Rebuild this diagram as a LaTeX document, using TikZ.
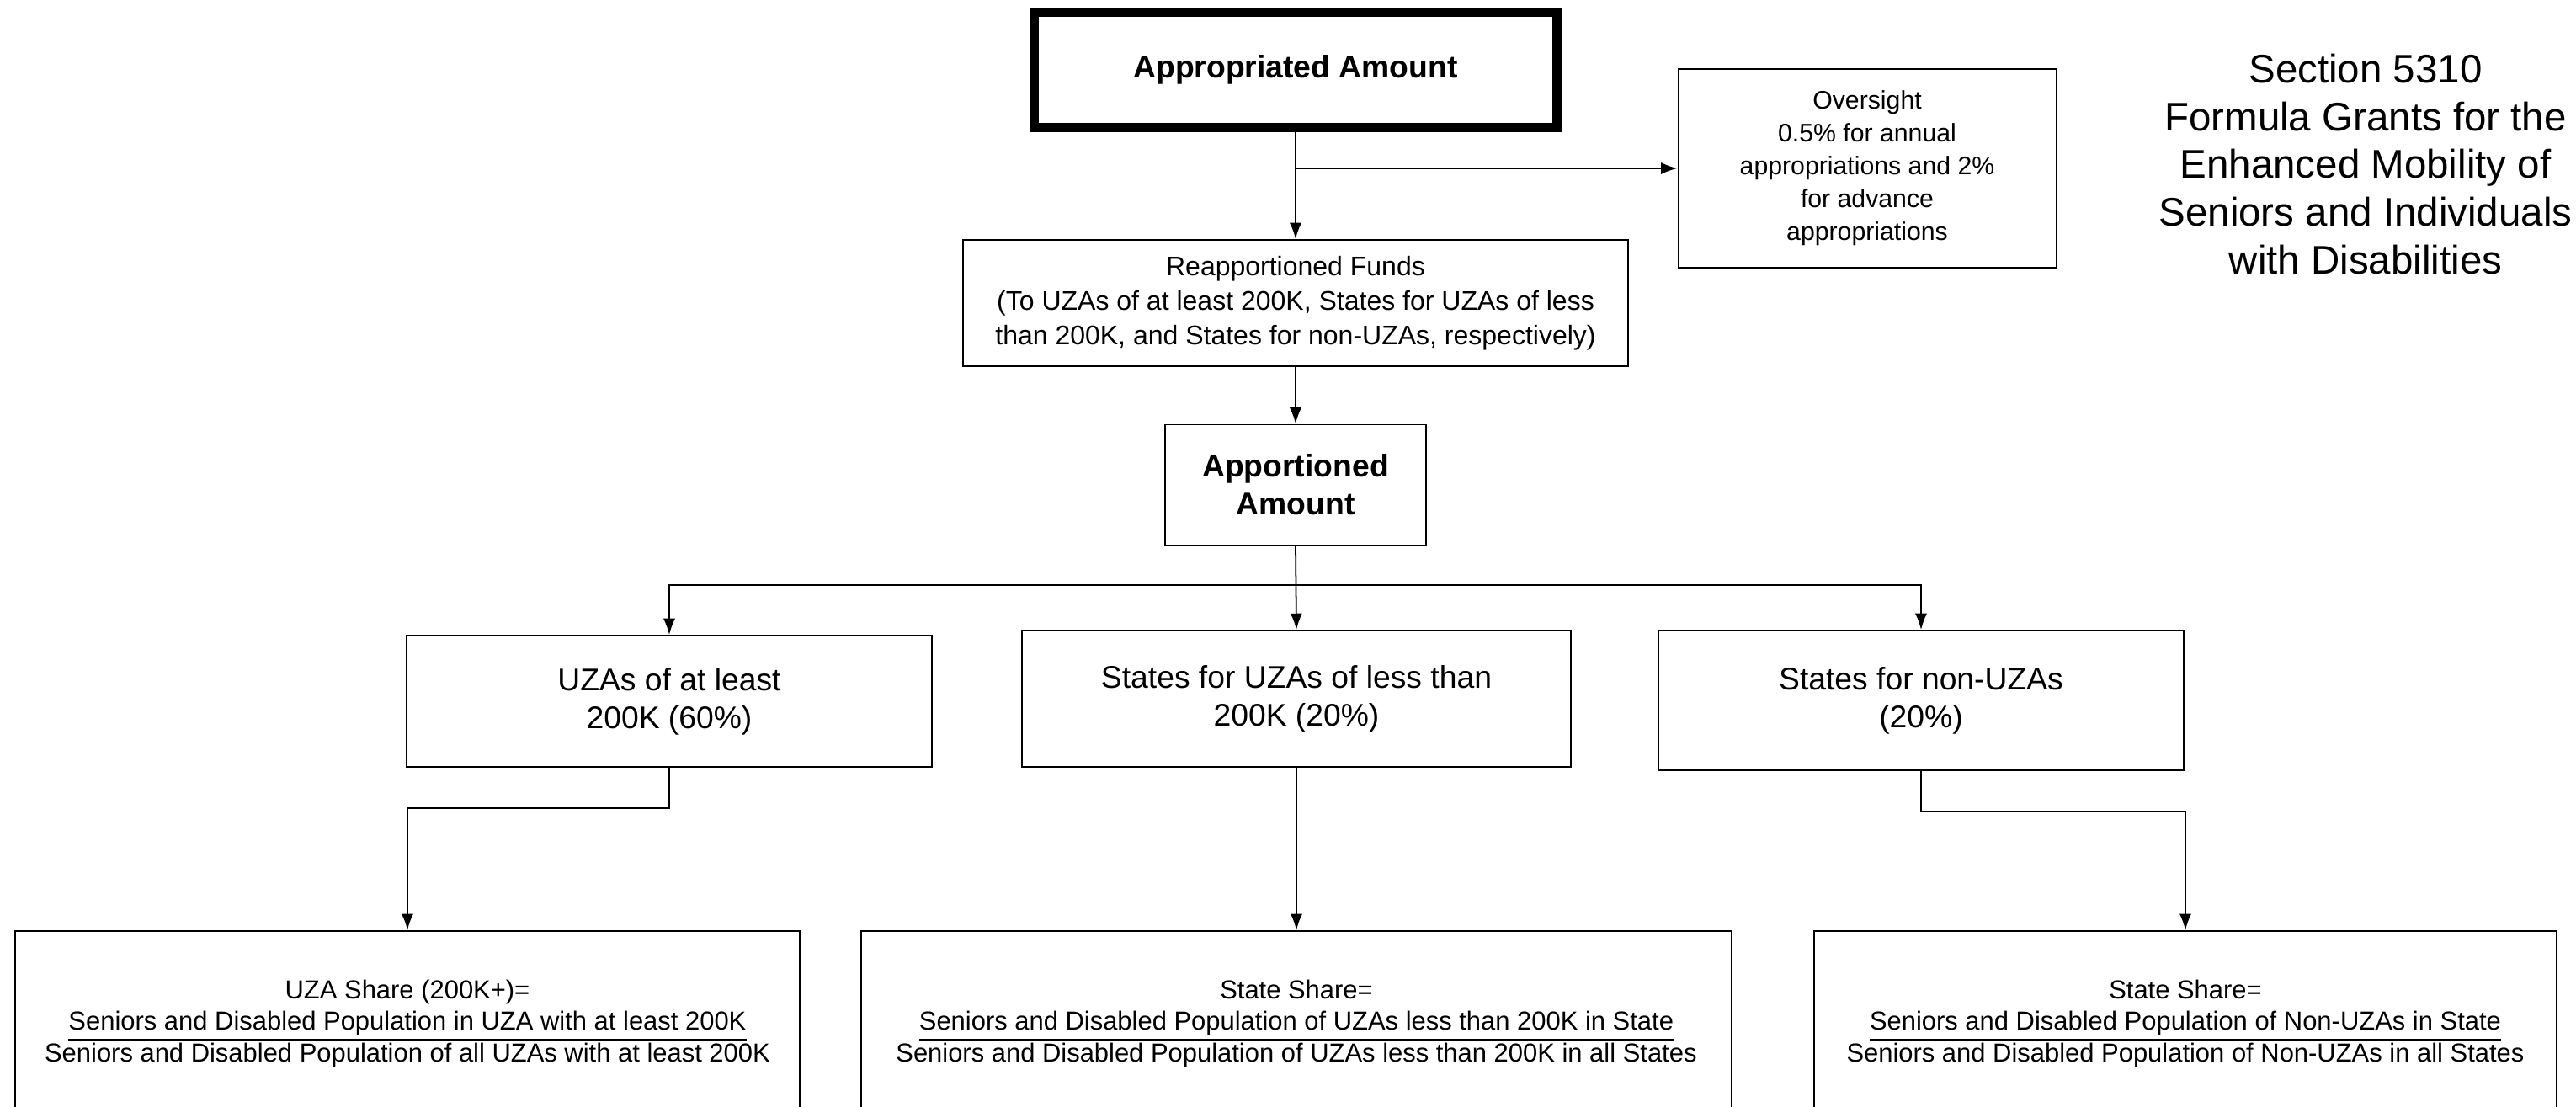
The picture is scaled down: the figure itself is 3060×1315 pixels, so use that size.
\documentclass[tikz,border=0pt]{standalone}
\usepackage{fontspec}
\setmainfont{Liberation Sans}
\usetikzlibrary{positioning, arrows.meta}

% numerator of a share, with the fraction bar under it
\newcommand{\sharenum}[1]{\leavevmode\vtop{\hbox{#1}\kern1pt\hrule height0.8pt}}

\tikzset{
  flowbox/.style={draw, line width=0.5pt, align=center, inner sep=2pt,
    font=\fontsize{10.6}{12.8}\selectfont},
  headbox/.style={flowbox, font=\fontsize{10.6}{12.8}\selectfont\bfseries},
  notebox/.style={flowbox, font=\fontsize{8.6}{11.1}\selectfont},
  sharebox/.style={flowbox, anchor=north, minimum height=2.2cm,
    font=\fontsize{8.8}{10.6}\selectfont},
  link/.style={->, line width=0.5pt}
}

\begin{document}
\begin{tikzpicture}[x=0.01cm, y=-0.01cm, >={Latex[length=5.5pt,width=4pt]}]
    \useasboundingbox (0,0) rectangle (3060,1315);
    \clip (0,0) rectangle (3060,1315);

    % top of the chart
    \node[headbox, line width=3pt, minimum width=6.21cm, minimum height=1.37cm] (appr) at (1539,83) {Appropriated Amount};
    \node[notebox, minimum width=4.49cm, minimum height=2.36cm] (over) at (2218,200)
        {Oversight\\0.5\% for annual\\appropriations and 2\%\\for advance\\appropriations};
    \node[flowbox, font=\fontsize{9.1}{11.7}\selectfont, minimum width=7.90cm, minimum height=1.50cm] (reap) at (1539,360)
        {Reapportioned Funds\\(To UZAs of at least 200K, States for UZAs of less\\than 200K, and States for non-UZAs, respectively)};
    \node[headbox, minimum width=3.10cm, minimum height=1.43cm] (appo) at (1539,576) {Apportioned\\Amount};

    % title on the right
    \node[align=center, font=\fontsize{13.5}{16.2}\selectfont] (title) at (2810,195)
        {Section 5310\\Formula Grants for the\\Enhanced Mobility of\\Seniors and Individuals\\with Disabilities};

    % the three shares
    \node[flowbox, minimum width=6.23cm, minimum height=1.56cm] (uza) at (795,833) {UZAs of at least\\200K (60\%)};
    \node[flowbox, minimum width=6.52cm, minimum height=1.62cm] (sless) at (1540,830) {States for UZAs of less than\\200K (20\%)};
    \node[flowbox, minimum width=6.23cm, minimum height=1.66cm] (snon) at (2282,832) {States for non-UZAs\\(20\%)};

    % formulas
    \node[sharebox, minimum width=9.32cm] (bl) at (484,1105)
        {UZA Share (200K+)=\\\sharenum{Seniors and Disabled Population in UZA with at least 200K}\\Seniors and Disabled Population of all UZAs with at least 200K};
    \node[sharebox, minimum width=10.34cm] (bm) at (1540,1105)
        {State Share=\\\sharenum{Seniors and Disabled Population of UZAs less than 200K in State}\\Seniors and Disabled Population of UZAs less than 200K in all States};
    \node[sharebox, minimum width=8.81cm] (br) at (2596,1105)
        {State Share=\\\sharenum{Seniors and Disabled Population of Non-UZAs in State}\\Seniors and Disabled Population of Non-UZAs in all States};

    \coordinate (bus) at (1540,695);
    \coordinate (elbowL) at (0,960);
    \coordinate (elbowR) at (0,964);

    % connectors
    \draw[link] (appr.south) -- (reap.north);
    \draw[link] (appr.south |- over.west) -- (over.west);
    \draw[link] (reap.south) -- (appo.north);
    \draw[link] (appo.south) -- (sless.north);
    \draw[link] (appo.south |- bus) -| (uza.north);
    \draw[link] (appo.south |- bus) -| (snon.north);
    \draw[link] (uza.south) -- (uza.south |- elbowL) -| (bl.north);
    \draw[link] (sless.south) -- (bm.north);
    \draw[link] (snon.south) -- (snon.south |- elbowR) -| (br.north);
\end{tikzpicture}
\end{document}
